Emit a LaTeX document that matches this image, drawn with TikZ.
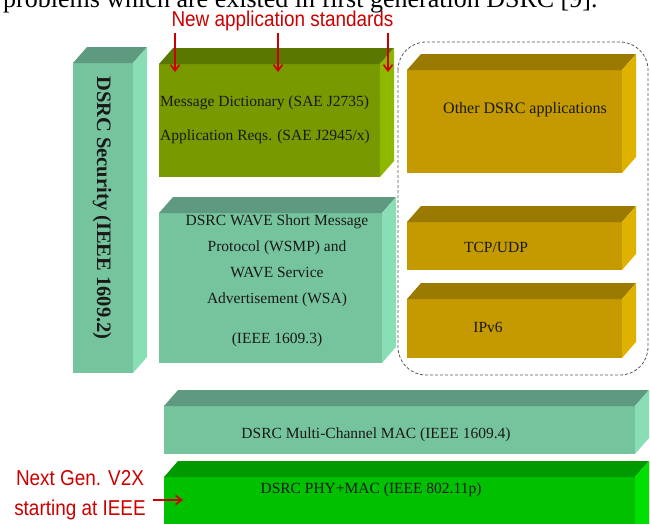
\documentclass[tikz,border=0pt]{standalone}
\usepackage{fontspec}
\setmainfont{Liberation Serif}
\newfontfamily\narrowsans[FakeStretch=0.88]{Liberation Sans}
\usetikzlibrary{arrows.meta}
\definecolor{secF}{RGB}{118,196,158}
\definecolor{secT}{RGB}{94,154,128}
\definecolor{secS}{RGB}{138,222,182}
\definecolor{appF}{RGB}{120,154,0}
\definecolor{appT}{RGB}{90,120,0}
\definecolor{appS}{RGB}{142,184,0}
\definecolor{goldF}{RGB}{196,154,0}
\definecolor{goldT}{RGB}{154,122,0}
\definecolor{goldS}{RGB}{224,178,0}
\definecolor{phyF}{RGB}{0,192,0}
\definecolor{phyT}{RGB}{0,154,0}
\definecolor{phyS}{RGB}{0,224,0}
\definecolor{lblred}{RGB}{204,0,0}
\definecolor{inktext}{RGB}{25,25,25}
\newcommand\dpx{14}
\newcommand\dpy{16}
\newcommand\cuboid[6]{%
  \node[frontface, fill=#6F, minimum width={(#4-#2)*1pt}, minimum height={(#5-#3)*1pt}, anchor=north west] (#1) at (#2,#3) {};
  \fill[#6T] (#1.north west) -- ++(\dpx,-\dpy) -- ([shift={(\dpx,-\dpy)}]#1.north east) -- (#1.north east) -- cycle;
  \fill[#6S] (#1.north east) -- ++(\dpx,-\dpy) -- ([shift={(\dpx,-\dpy)}]#1.south east) -- (#1.south east) -- cycle;
}
\tikzset{
  frontface/.style={rectangle, draw=none, inner sep=0pt, outer sep=0pt},
  boxtext/.style={font=\fontsize{15.5}{26}\selectfont, text=inktext, inner sep=1pt},
  redlbl/.style={font=\narrowsans\fontsize{21.5}{30}\selectfont, text=lblred, inner sep=2pt},
  redarrow/.style={draw=lblred, line width=1.6pt, -{Straight Barb[length=6pt,width=9pt]}},
}
\begin{document}
\begin{tikzpicture}[x=1pt, y=-1pt]
\useasboundingbox (0,0) rectangle (650,523);
\clip (0,0) rectangle (650,523);
% cropped caption line
\node[anchor=base west, inner sep=0pt, font=\fontsize{26}{30}\selectfont] (cap) at (3,7.5)
  {problems which are existed in first generation DSRC [9].};
% dashed group
\draw[gray!70!black, line width=0.8pt, dash pattern=on 3pt off 2pt, rounded corners=28pt]
  (398,42) rectangle (648,375);
% boxes
\cuboid{sec}{73}{63}{133}{373}{sec}
\cuboid{app}{159}{64}{380}{177}{app}
\cuboid{wsmp}{159}{213}{382}{363}{sec}
\cuboid{other}{407}{70}{622}{173}{gold}
\cuboid{tcp}{407}{222}{622}{270}{gold}
\cuboid{ipv}{407}{299}{622}{358}{gold}
\cuboid{mac}{164}{406}{635}{454}{sec}
\cuboid{phy}{164}{477}{635}{545}{phy}
% texts
\node[boxtext, rotate=-90, font=\bfseries\fontsize{20.5}{24}\selectfont] (sect) at (102,208) {DSRC Security (IEEE 1609.2)};
\node[boxtext, anchor=west] (md) at (159,103) {Message Dictionary (SAE J2735)};
\node[boxtext, anchor=west] (ar) at (159,137) {Application Reqs. (SAE J2945/x)};
\node[boxtext, align=center] (wt) at (277,261) {DSRC WAVE Short Message\\Protocol (WSMP) and\\WAVE Service\\Advertisement (WSA)};
\node[boxtext] (wi) at (277,340) {(IEEE 1609.3)};
\node[boxtext, font=\fontsize{16}{20}\selectfont] (ot) at (525,110) {Other DSRC applications};
\node[boxtext] (tt) at (496,247) {TCP/UDP};
\node[boxtext] (it) at (488,327) {IPv6};
\node[boxtext] (mt) at (376,435) {DSRC Multi-Channel MAC (IEEE 1609.4)};
\node[boxtext] (pt) at (371,490) {DSRC PHY+MAC (IEEE 802.11p)};
% red labels and arrows
\node[redlbl] (nas) at (282.5,21) {New application standards};
\coordinate (a1) at (175,72);
\coordinate (a2) at (278,72);
\coordinate (a3) at (388,72);
\draw[redarrow] (nas.south -| a1) -- (a1);
\draw[redarrow] (nas.south -| a2) -- (a2);
\draw[redarrow] (nas.south -| a3) -- (a3);
\node[redlbl, align=center] (ng) at (80,495) {Next Gen. V2X\\starting at IEEE};
\coordinate (nge) at (183,500);
\draw[redarrow] ([xshift=5pt]ng.east |- nge) -- (nge);
\end{tikzpicture}
\end{document}
